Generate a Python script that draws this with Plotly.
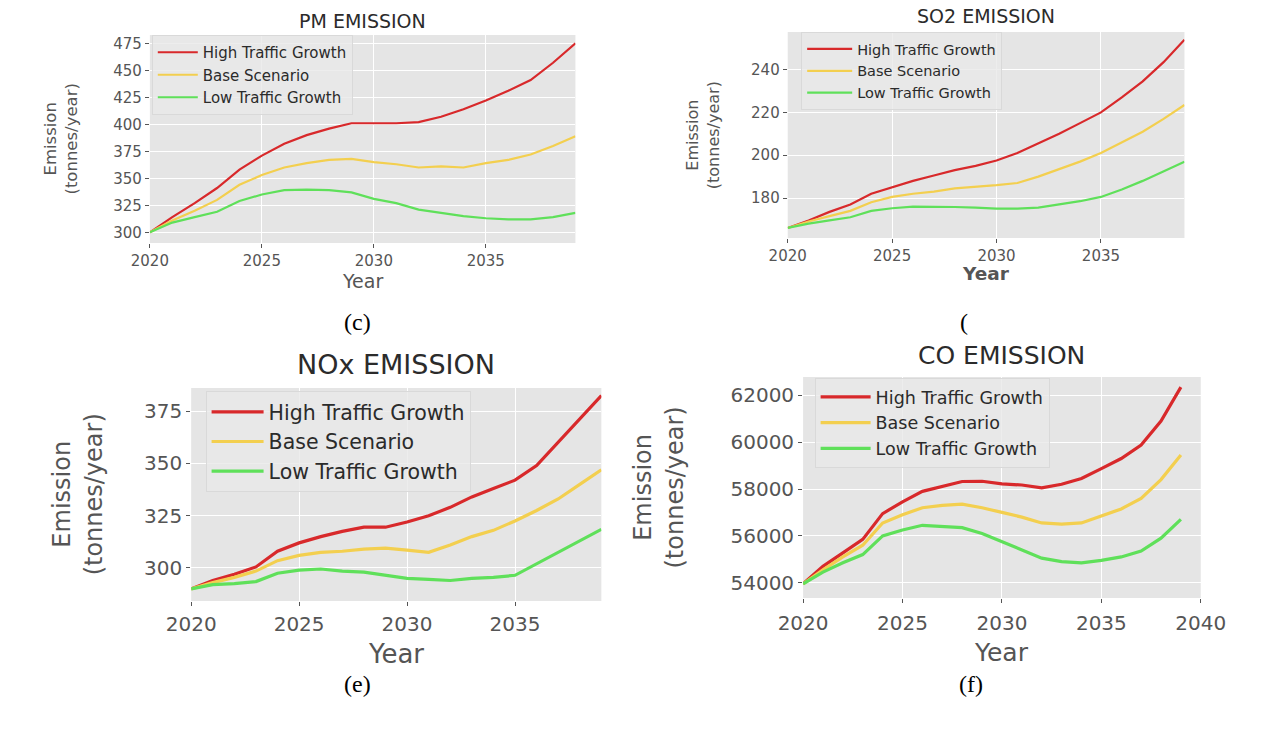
import plotly.graph_objects as go

# ---------------------------------------------------------------- data
years = list(range(2020, 2040))
scenario_names = ["High Traffic Growth", "Base Scenario", "Low Traffic Growth"]

pm_high = [300, 314, 327, 341, 358, 371, 382, 390, 396, 401, 401, 401, 402, 407, 414, 422, 431, 441, 457, 475]
pm_base = [300, 311, 320, 330, 344, 353, 360, 364, 367, 368, 365, 363, 360, 361, 360, 364, 367, 372, 380, 389]
pm_low = [300, 309, 314, 319, 329, 335, 339, 339.5, 339, 337, 331, 327, 321, 318, 315, 313, 312, 312, 314, 318]

so2_high = [166, 169.5, 173.5, 177, 182, 185, 188, 190.5, 193, 195, 197.5, 201, 205.5, 210, 215, 220, 227, 234.5, 243.5, 254]
so2_base = [166, 169, 171.5, 174, 178, 180.5, 182, 183, 184.5, 185.2, 186, 187, 190, 193.5, 197, 201, 206, 211, 217, 223.5]
so2_low = [166, 168, 169.5, 171, 174, 175.2, 176, 176, 175.8, 175.5, 175, 175, 175.5, 177, 178.5, 180.5, 184, 188, 192.5, 197]

nox_high = [290, 294, 297, 300.5, 308, 312, 315, 317.5, 319.5, 319.5, 322, 325, 329, 334, 338, 342, 349, 360, 371, 382.5]
nox_base = [290, 293, 295.5, 298.5, 303.5, 306, 307.5, 308, 309, 309.5, 308.5, 307.5, 311, 315, 318, 322.5, 327.5, 333, 340, 347]
nox_low = [290, 292, 292.5, 293.5, 297.5, 299, 299.5, 298.5, 298, 296.5, 295, 294.5, 294, 295, 295.5, 296.5, 302, 307.5, 313, 318.5]

co_high = [53950, 54700, 55270, 55850, 56950, 57450, 57900, 58100, 58320, 58330, 58220, 58170, 58050, 58200, 58450, 58870, 59300, 59880, 60900, 62350]
co_base = [53950, 54550, 55100, 55600, 56550, 56900, 57200, 57300, 57350, 57200, 57000, 56800, 56550, 56500, 56550, 56850, 57150, 57600, 58400, 59450]
co_low = [53950, 54450, 54850, 55200, 56000, 56250, 56450, 56400, 56350, 56100, 55750, 55400, 55050, 54900, 54850, 54950, 55100, 55350, 55900, 56700]

pm_yticks = [300, 325, 350, 375, 400, 425, 450, 475]
so2_yticks = [180, 200, 220, 240]
nox_yticks = [300, 325, 350, 375]
co_yticks = [54000, 56000, 58000, 60000, 62000]
year_ticks = [2020, 2025, 2030, 2035]
year_ticks_co = [2020, 2025, 2030, 2035, 2040]

panel_titles = ["PM EMISSION", "SO2 EMISSION", "NOx EMISSION", "CO EMISSION"]
captions = ["(c)", "(", "(e)", "(f)"]

# ---------------------------------------------------------------- layout helpers
W, H = 1269, 729


def fx(px):
    return px / W


def fy(py):
    return 1 - py / H


line_colors = ["#d8292b", "#f3cf4f", "#5fe05a"]
BG = "#e5e5e5"
TICK_COLOR = "#555555"
TEXT_DARK = "#2b2b2b"
FONT = "DejaVu Sans"

panels = [
    dict(series=[pm_high, pm_base, pm_low], yticks=pm_yticks, xticks=year_ticks,
         box=(130, 35, 573, 243), xrange=[2020, 2039], yrange=[290.1, 482.7],
         tick_size=15, legend_size=15, title_size=19, xlabel_size=19, ylabel_size=16.5,
         title_y=20.5, xlabel_y=281, ylabel_x=37, legend_xy=(132, 35), itemwidth=40,
         lw=2.2, bold_x=False, standoff=0),
    dict(series=[so2_high, so2_base, so2_low], yticks=so2_yticks, xticks=year_ticks,
         box=(794, 32, 1207, 238), xrange=[2020, 2039], yrange=[161.3, 257.6],
         tick_size=15, legend_size=14.5, title_size=19, xlabel_size=18.5, ylabel_size=16,
         title_y=16.5, xlabel_y=274, ylabel_x=706, legend_xy=(808, 32), itemwidth=45,
         lw=2.2, bold_x=True, standoff=0),
    dict(series=[nox_high, nox_base, nox_low], yticks=nox_yticks, xticks=year_ticks,
         box=(173, 388, 600, 601), xrange=[2020, 2039], yrange=[284.2, 386.1],
         tick_size=20, legend_size=20.5, title_size=27, xlabel_size=26, ylabel_size=24,
         title_y=364, xlabel_y=654, ylabel_x=55, legend_xy=(188, 391), itemwidth=52,
         lw=3.2, bold_x=False, standoff=1),
    dict(series=[co_high, co_base, co_low], yticks=co_yticks, xticks=year_ticks_co,
         box=(810, 377, 1224, 598), xrange=[2020, 2040], yrange=[53347, 62781],
         tick_size=20, legend_size=17.5, title_size=25, xlabel_size=25, ylabel_size=24,
         title_y=355, xlabel_y=652, ylabel_x=660, legend_xy=(822, 378), itemwidth=50,
         lw=3.2, bold_x=False, standoff=3),
]

caption_pos = [(346, 322), (977, 322), (346, 684), (985, 684)]

fig = go.Figure()
annotations = []
layout = {}

for i, p in enumerate(panels):
    n = "" if i == 0 else str(i + 1)
    legend_key = "legend" + n
    for name, values, color in zip(scenario_names, p["series"], line_colors):
        fig.add_trace(go.Scatter(
            x=years, y=values, name=name, mode="lines",
            line=dict(color=color, width=p["lw"]),
            xaxis="x" + n, yaxis="y" + n, legend=legend_key,
        ))

    x0, y0, x1, y1 = p["box"]
    common = dict(
        showgrid=True, gridcolor="white", gridwidth=1.2, zeroline=False,
        showline=False, ticks="outside", ticklen=4, tickwidth=1, tickcolor=TICK_COLOR,
        tickfont=dict(family=FONT, size=p["tick_size"], color=TICK_COLOR),
        fixedrange=True, tickformat="d",
    )
    layout["xaxis" + n] = dict(
        common, domain=[fx(x0), fx(x1)], range=p["xrange"],
        tickmode="array", tickvals=p["xticks"], anchor="y" + n,
        ticklabelstandoff=p["standoff"],
    )
    layout["yaxis" + n] = dict(
        common, domain=[fy(y1), fy(y0)], range=p["yrange"],
        tickmode="array", tickvals=p["yticks"], anchor="x" + n,
    )
    lx, ly = p["legend_xy"]
    layout[legend_key] = dict(
        x=fx(lx), y=fy(ly), xanchor="left", yanchor="top",
        xref="paper", yref="paper",
        bgcolor="rgba(233,233,233,0.8)", bordercolor="#d9d9d9", borderwidth=1,
        font=dict(family=FONT, size=p["legend_size"], color=TEXT_DARK),
        itemwidth=p["itemwidth"], tracegroupgap=0,
    )

    cx = (x0 + x1) / 2
    cy = (y0 + y1) / 2
    annotations.append(dict(
        text=panel_titles[i], x=fx(cx), y=fy(p["title_y"]), xref="paper", yref="paper",
        xanchor="center", yanchor="middle", showarrow=False,
        font=dict(family=FONT, size=p["title_size"], color=TEXT_DARK),
    ))
    xlabel = "<b>Year</b>" if p["bold_x"] else "Year"
    annotations.append(dict(
        text=xlabel, x=fx(cx), y=fy(p["xlabel_y"]), xref="paper", yref="paper",
        xanchor="center", yanchor="middle", showarrow=False,
        font=dict(family=FONT, size=p["xlabel_size"], color=TICK_COLOR),
    ))
    annotations.append(dict(
        text="Emission<br>(tonnes/year)", x=fx(p["ylabel_x"]), y=fy(cy),
        xref="paper", yref="paper", xanchor="center", yanchor="middle",
        textangle=-90, showarrow=False,
        font=dict(family=FONT, size=p["ylabel_size"], color=TICK_COLOR),
    ))

for text, (px, py) in zip(captions, caption_pos):
    annotations.append(dict(
        text=text, x=fx(px), y=fy(py), xref="paper", yref="paper",
        xanchor="center", yanchor="middle", showarrow=False,
        font=dict(family="Liberation Serif", size=24, color="black"),
    ))

fig.update_layout(
    width=W, height=H, margin=dict(l=0, r=0, t=0, b=0),
    paper_bgcolor="white", plot_bgcolor=BG,
    showlegend=True, annotations=annotations, **layout,
)

fig.write_html("out.html")
